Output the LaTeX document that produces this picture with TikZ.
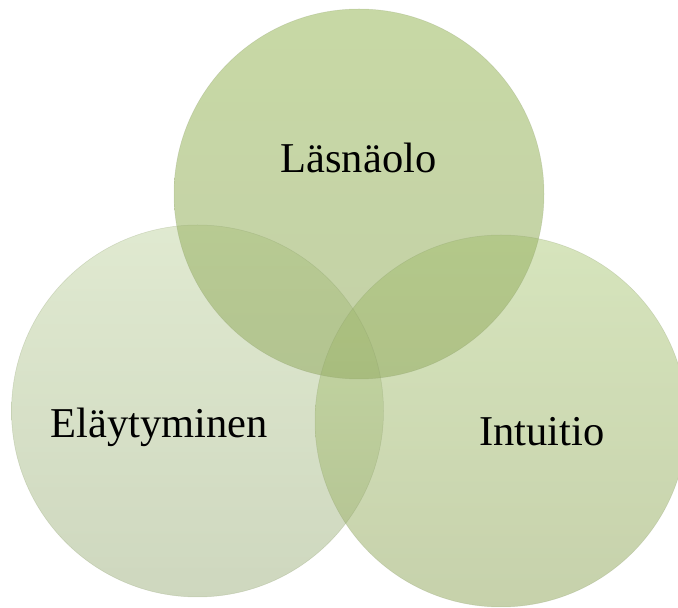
\documentclass[tikz,border=0pt]{standalone}
\usepackage{fontspec}
\setmainfont{Liberation Serif}
\definecolor{topA}{HTML}{9EBC61}
\definecolor{topB}{HTML}{97AE66}
\definecolor{leftA}{HTML}{C9DAAE}
\definecolor{leftB}{HTML}{AABA8E}
\definecolor{rightA}{HTML}{B8D18B}
\definecolor{rightB}{HTML}{9CAF6C}
\definecolor{rimcol}{HTML}{8A9C6A}
\tikzset{
  venn/.style={fill opacity=0.57},
  rim/.style={draw=rimcol, draw opacity=0.3, line width=0.5pt},
  lab/.style={font=\fontsize{42.5}{50}\selectfont, anchor=base, inner sep=0pt, text=black}
}
\begin{document}
\begin{tikzpicture}[x=1pt,y=1pt]
\useasboundingbox (0,0) rectangle (678,608);
\fill[white] (0,0) rectangle (678,608);
\begin{scope}
\clip (0,0) rectangle (678,608);
% left circle
\shade[venn, top color=leftA, bottom color=leftB] (197.5,197) circle (186pt);
% right circle
\shade[venn, top color=rightA, bottom color=rightB] (501,187) circle (186pt);
% top circle
\shade[venn, top color=topA, bottom color=topB] (359,414) circle (185pt);
\draw[rim] (197.5,197) circle (186pt);
\draw[rim] (501,187) circle (186pt);
\draw[rim] (359,414) circle (185pt);
\end{scope}
\node[lab] (las) at (358.5,435) {Läsnäolo};
\node[lab] (ela) at (159,170) {Eläytyminen};
\node[lab] (int) at (542,162) {Intuitio};
\end{tikzpicture}
\end{document}
